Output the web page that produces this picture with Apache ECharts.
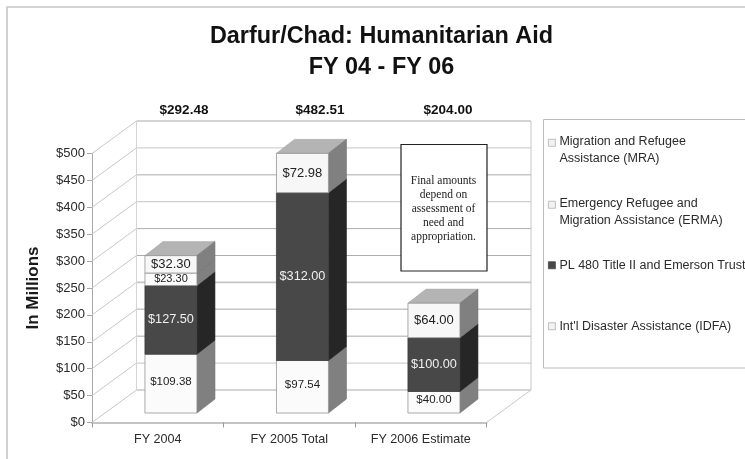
<!DOCTYPE html>
<html><head><meta charset="utf-8">
<style>html,body{margin:0;padding:0;background:#fff}#c{width:745px;height:459px}</style>
<script src="https://cdn.jsdelivr.net/npm/echarts@6/dist/echarts.min.js"></script>
</head><body><div id="c"></div>
<script>
const categories = ['FY 2004', 'FY 2005 Total', 'FY 2006 Estimate'];
const yTicks = [0, 50, 100, 150, 200, 250, 300, 350, 400, 450, 500];
const idfa = [109.38, 97.54, 40.00];
const pl480 = [127.50, 312.00, 100.00];
const erma = [23.30, 0, 0];
const mra = [32.30, 72.98, 64.00];
const totals = ['$292.48', '$482.51', '$204.00'];
const seriesNames = ['Migration and Refugee\nAssistance (MRA)', 'Emergency Refugee and\nMigration Assistance (ERMA)', 'PL 480 Title II and Emerson Trust', "Int'l Disaster Assistance (IDFA)"];
const noteLines = 'Final amounts\ndepend on\nassessment of\nneed and\nappropriation.';

const FONT = '"Liberation Sans", Arial, sans-serif';
const WALL = [44.5, -32.5], BAR_SHIFT = [13.2, -9.5], DEPTH = [18, -14], BAR_W = 52;
const LINE = '#c6c6c6';
const chart = echarts.init(document.getElementById('c'), null, {renderer: 'canvas'});

function wallSeries() {
  return {
    type: 'custom', silent: true, z: 1, data: yTicks.map(v => [0, v]), encode: {y: 1},
    renderItem(params, api) {
      const v = api.value(1);
      const y = api.coord([0, v])[1];
      const rect = params.coordSys;
      const x0 = rect.x, x1 = rect.x + rect.width;
      const heavy = v === 250 || v === 300;
      const children = [
        {type: 'line', shape: {x1: x0, y1: y, x2: x0 + WALL[0], y2: y + WALL[1]}, style: {stroke: '#c8c8c8', lineWidth: 1}},
        {type: 'line', shape: {x1: x0 + WALL[0], y1: y + WALL[1], x2: x1 + WALL[0], y2: y + WALL[1]}, style: {stroke: heavy ? '#adadad' : LINE, lineWidth: (v === 50 || v === 250 || v === 300 || v === 350 || v === 450) ? 1 : 1.6}}
      ];
      if (v === 0) {
        children.push({type: 'line', shape: {x1: x1, y1: y, x2: x1 + WALL[0], y2: y + WALL[1]}, style: {stroke: '#c8c8c8', lineWidth: 1}});
      }
      if (v === 500) {
        const by = rect.y + rect.height + WALL[1];
        children.push({type: 'line', shape: {x1: x0 + WALL[0], y1: y + WALL[1], x2: x0 + WALL[0], y2: by}, style: {stroke: '#d4d4d4', lineWidth: 1}});
        children.push({type: 'line', shape: {x1: x1 + WALL[0], y1: y + WALL[1], x2: x1 + WALL[0], y2: by}, style: {stroke: LINE, lineWidth: 1}});
      }
      return {type: 'group', children};
    }
  };
}

function barSeries(name, values, bases, look, z, withTop) {
  return {
    name, type: 'custom', z,
    itemStyle: {color: look.legend},
    data: categories.map((c, i) => [i, bases[i], bases[i] + values[i], values[i]]),
    encode: {x: 0, y: [1, 2]},
    renderItem(params, api) {
      const val = api.value(3);
      if (!val) return null;
      const i = api.value(0);
      const lo = api.coord([i, api.value(1)]);
      const hi = api.coord([i, api.value(2)]);
      const x0 = lo[0] + BAR_SHIFT[0] - BAR_W / 2, x1 = x0 + BAR_W;
      const yb = lo[1] + BAR_SHIFT[1], yt = hi[1] + BAR_SHIFT[1];
      const [dx, dy] = DEPTH;
      const kids = [
        {type: 'polygon', shape: {points: [[x1, yb], [x1 + dx, yb + dy], [x1 + dx, yt + dy], [x1, yt]]}, style: {fill: look.side, stroke: look.sideStroke, lineWidth: 0.6}},
        {type: 'rect', shape: {x: x0, y: yt, width: BAR_W, height: yb - yt}, style: {fill: look.front, stroke: look.stroke, lineWidth: 0.8}},
        {type: 'text', style: {text: '$' + val.toFixed(2), x: (x0 + x1) / 2, y: (yb + yt) / 2 + look.labelDy, align: 'center', verticalAlign: 'middle', fill: look.text, font: look.labelSize(i) + 'px ' + FONT}}
      ];
      if (withTop) kids.unshift({type: 'polygon', shape: {points: [[x0, yt], [x0 + dx, yt + dy], [x1 + dx, yt + dy], [x1, yt]]}, style: {fill: '#b4b4b4', stroke: '#9a9a9a', lineWidth: 0.6}});
      return {type: 'group', children: kids};
    }
  };
}

const lightBase = {front: '#fbfbfb', side: '#808080', sideStroke: '#6e6e6e', stroke: '#949494', text: '#222', legend: '#f2f2f2'};
const idfaLook = Object.assign({}, lightBase, {labelDy: -2, labelSize: () => 11.5});
const ermaLook = Object.assign({}, lightBase, {labelDy: 0, labelSize: () => 11});
const mraLook = Object.assign({}, lightBase, {front: '#f7f7f7', labelDy: 0, labelSize: () => 13});
const darkLook = {front: '#484848', side: '#262626', sideStroke: '#222', stroke: '#3e3e3e', text: '#f0f0f0', legend: '#484848', labelDy: 0, labelSize: () => 12.7};
const sum = (...arrs) => categories.map((c, i) => arrs.reduce((t, a) => t + a[i], 0));

const legendTop = [133.5, 195.5, 257, 318];
const twoLineIcon = 'path://M0 0H7V7H0Z M0 21.5L0 21.5';
const option = {
  animation: false,
  backgroundColor: '#fff',
  textStyle: {fontFamily: FONT},
  grid: {left: 92, right: 258.5, top: 153.5, bottom: 36.5},
  xAxis: {
    type: 'category', data: categories,
    axisLine: {lineStyle: {color: '#c4c4c4', width: 2}},
    axisTick: {show: true, length: 5, lineStyle: {color: '#9a9a9a'}},
    axisLabel: {color: '#2b2b2b', fontSize: 12.6, margin: 11, fontFamily: FONT}
  },
  yAxis: {
    type: 'value', min: 0, max: 500, interval: 50,
    name: 'In Millions', nameLocation: 'middle', nameGap: 50,
    nameTextStyle: {fontSize: 17, fontWeight: 'bold', color: '#1a1a1a', fontFamily: FONT},
    axisLine: {show: true, lineStyle: {color: '#a8a8a8'}},
    axisTick: {show: true, length: 5, lineStyle: {color: '#a8a8a8'}},
    axisLabel: {color: '#2b2b2b', fontSize: 13, margin: 7, fontFamily: FONT, formatter: v => '$' + v},
    splitLine: {show: false}
  },
  legend: seriesNames.map((n, i) => ({
    data: [n], left: 548, top: legendTop[i], orient: 'vertical', padding: 0,
    itemWidth: 7, itemHeight: i < 2 ? 21.5 : 7, itemGap: 0, selectedMode: false,
    icon: i < 2 ? twoLineIcon : 'rect',
    itemStyle: {borderColor: i === 2 ? '#484848' : '#b0b0b0', borderWidth: 0.8},
    textStyle: {fontSize: 12.5, lineHeight: 16.5, color: '#2b2b2b', fontFamily: FONT, padding: [0, 0, 0, -1]}
  })),
  series: [
    wallSeries(),
    barSeries(seriesNames[3], idfa, [0, 0, 0], idfaLook, 3, false),
    barSeries(seriesNames[2], pl480, idfa, darkLook, 4, false),
    barSeries(seriesNames[1], erma, sum(idfa, pl480), ermaLook, 5, false),
    barSeries(seriesNames[0], mra, sum(idfa, pl480, erma), mraLook, 6, true)
  ],
  graphic: [
    {type: 'polyline', silent: true, shape: {points: [[7, 459], [7, 7], [745, 7]]}, style: {fill: 'none', stroke: '#c6c6c6', lineWidth: 1.6}},
    {type: 'text', x: 381.5, y: 37, style: {text: 'Darfur/Chad: Humanitarian Aid', align: 'center', verticalAlign: 'middle', fill: '#111', font: 'bold 23.4px ' + FONT}},
    {type: 'text', x: 381.5, y: 68, style: {text: 'FY 04 - FY 06', align: 'center', verticalAlign: 'middle', fill: '#111', font: 'bold 23.4px ' + FONT}},
    {type: 'text', x: 184, y: 110, style: {text: totals[0], align: 'center', verticalAlign: 'middle', fill: '#111', font: 'bold 13.5px ' + FONT}},
    {type: 'text', x: 320, y: 110, style: {text: totals[1], align: 'center', verticalAlign: 'middle', fill: '#111', font: 'bold 13.5px ' + FONT}},
    {type: 'text', x: 448, y: 110, style: {text: totals[2], align: 'center', verticalAlign: 'middle', fill: '#111', font: 'bold 13.5px ' + FONT}},
    {type: 'rect', z: 8, shape: {x: 401, y: 144.5, width: 86, height: 126.5}, style: {fill: '#fff', stroke: '#222', lineWidth: 1.2}},
    {type: 'text', z: 9, x: 443.5, y: 209, style: {text: noteLines, align: 'center', verticalAlign: 'middle', lineHeight: 14, fill: '#222', font: '11.5px "Liberation Serif", "Times New Roman", serif'}},
    {type: 'rect', z: 0, shape: {x: 543.5, y: 119.5, width: 215, height: 248.5}, style: {fill: '#fff', stroke: '#bcbcbc', lineWidth: 1}}
  ]
};
chart.setOption(option);
</script></body></html>
